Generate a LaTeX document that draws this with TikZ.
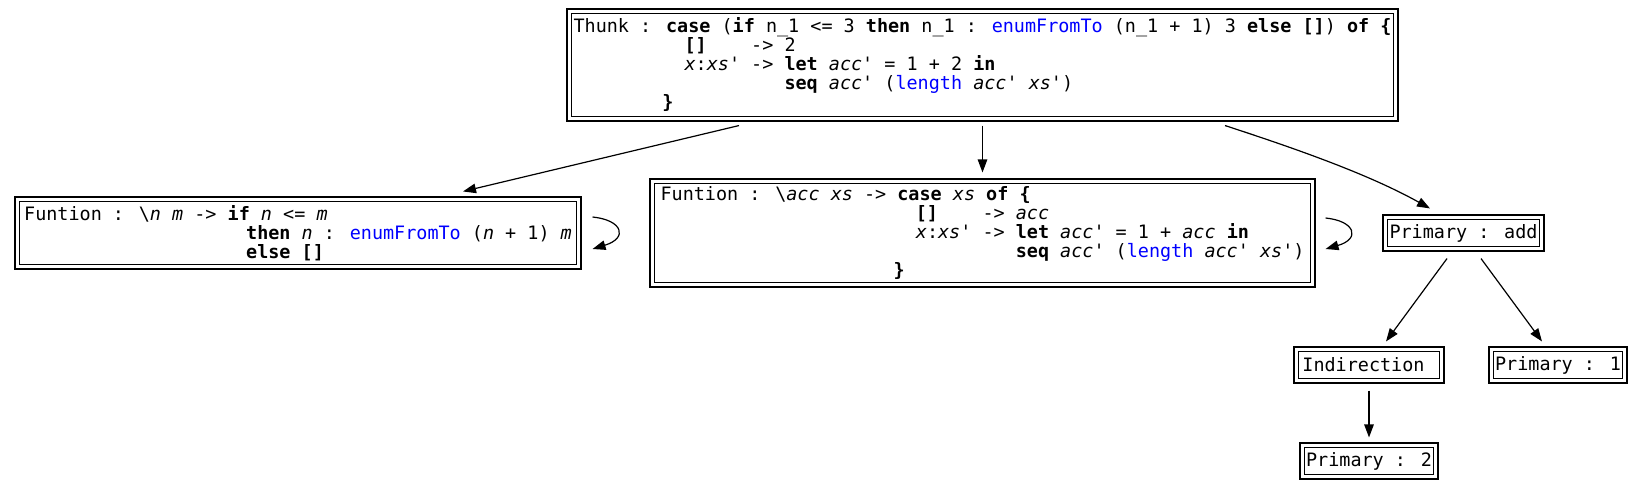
\documentclass[tikz,border=0pt]{standalone}
\usepackage{fontspec}
\usetikzlibrary{arrows.meta}
\newfontfamily\gv{DejaVu Sans Mono}
\definecolor{fnblue}{RGB}{0,0,255}
\newcommand\gvfont{\gv\fontsize{18.44}{19}\selectfont\lineskiplimit=-20pt\relax}
\newcommand\kw[1]{\textbf{#1}}
\newcommand\vr[1]{\textit{#1}}
\newcommand\fn[1]{\textcolor{fnblue}{#1}}
\newcommand\q{\textquotesingle}
\newcommand\ind[1]{\hspace*{#1\fontcharwd\font`x}}
\tikzset{
  box/.style={draw=black, line width=1.1pt, inner sep=0pt, align=left, font=\gvfont},
  innerbox/.style={draw=black, line width=1.1pt},
  arr/.style={-{Triangle[length=13pt,width=9.5pt]}, line width=1.2pt, draw=black}
}
\begin{document}
\begin{tikzpicture}[x=1pt,y=-1pt]
\fill[white] (0,0) rectangle (1643,491);
\useasboundingbox (0,0) rectangle (1643,491);

\node[box, minimum width=831pt, minimum height=112pt] (top) at (982.5,65) {%
Thunk : \kw{case} (\kw{if} n\_1 <= 3 \kw{then} n\_1 : \fn{enumFromTo} (n\_1 + 1) 3 \kw{else} \kw{[]}) \kw{of} \kw{\{}\\
\ind{10}\kw{[]}\ind{4}-> 2\\
\ind{10}\vr{x}:\vr{xs}\q{} -> \kw{let} \vr{acc}\q{} = 1 + 2 \kw{in}\\
\ind{19}\kw{seq} \vr{acc}\q{} (\fn{length} \vr{acc}\q{} \vr{xs}\q{})\\
\ind{8}\kw{\}}};

\node[box, minimum width=566pt, minimum height=72pt] (f1) at (298,233) {%
Funtion : \textbackslash\vr{n} \vr{m} -> \kw{if} \vr{n} <= \vr{m}\\
\ind{20}\kw{then} \vr{n} : \fn{enumFromTo} (\vr{n} + 1) \vr{m}\\
\ind{20}\kw{else} \kw{[]}};

\node[box, minimum width=665pt, minimum height=108pt] (f2) at (982.5,233) {%
Funtion : \textbackslash\vr{acc} \vr{xs} -> \kw{case} \vr{xs} \kw{of} \kw{\{}\\
\ind{23}\kw{[]}\ind{4}-> \vr{acc}\\
\ind{23}\vr{x}:\vr{xs}\q{} -> \kw{let} \vr{acc}\q{} = 1 + \vr{acc} \kw{in}\\
\ind{32}\kw{seq} \vr{acc}\q{} (\fn{length} \vr{acc}\q{} \vr{xs}\q{})\\
\ind{21}\kw{\}}};

\node[box, minimum width=161pt, minimum height=36pt] (add) at (1463.5,233) {Primary : add};
\node[box, minimum width=150pt, minimum height=36pt] (ind) at (1369,365) {Indirection\ind{1}};
\node[box, minimum width=138pt, minimum height=36pt] (p1) at (1558,365) {Primary : 1};
\node[box, minimum width=138pt, minimum height=36pt] (p2) at (1369,461) {Primary : 2};

\foreach \n in {top,f1,f2,add,ind,p1,p2}
  \draw[innerbox] ([shift={(5,5)}]\n.north west) rectangle ([shift={(-5,-5)}]\n.south east);

\draw[arr] ([shift={(-243.5,4)}]top.south) -- ([shift={(165,-5)}]f1.north);
\draw[arr] ([shift={(0,4)}]top.south) -- ([shift={(0,-6)}]f2.north);
\draw[arr] ([shift={(242.5,4)}]top.south) .. controls (1300,150) and (1370,175) .. ([shift={(-33.5,-6)}]add.north);
\draw[arr] ([shift={(-16.5,7)}]add.south) -- ([shift={(17,-5)}]ind.north);
\draw[arr] ([shift={(17.5,7)}]add.south) -- ([shift={(-16,-5)}]p1.north);
\draw[arr] ([shift={(0,7)}]ind.south) -- ([shift={(0,-5)}]p2.north);
\draw[arr] ([shift={(11,-16)}]f1.east) .. controls ([shift={(41,-13)}]f1.east) and ([shift={(47,5)}]f1.east) .. ([shift={(11,16)}]f1.east);
\draw[arr] ([shift={(10,-15)}]f2.east) .. controls ([shift={(40,-12)}]f2.east) and ([shift={(45,6)}]f2.east) .. ([shift={(10,16)}]f2.east);
\end{tikzpicture}
\end{document}
